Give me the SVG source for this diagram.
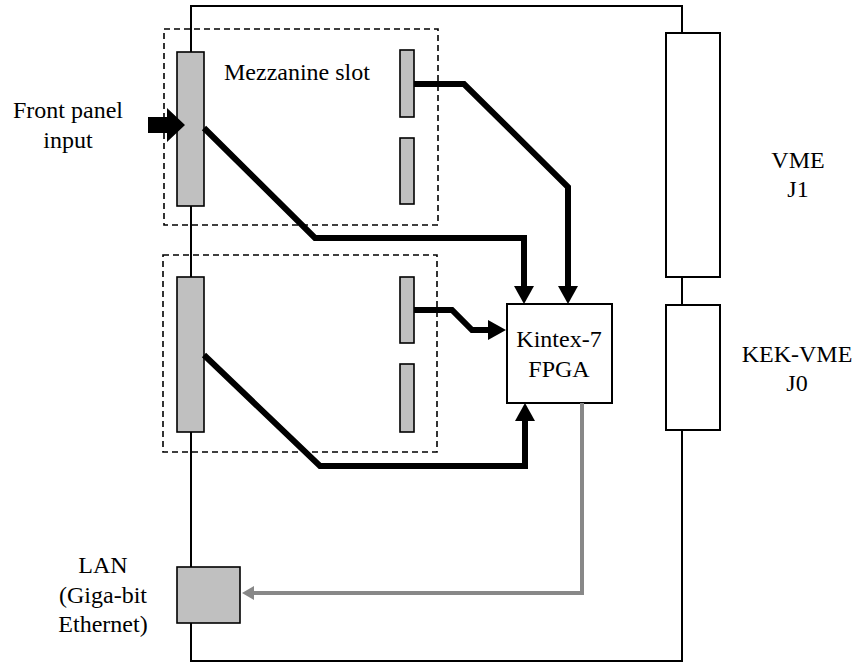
<svg xmlns="http://www.w3.org/2000/svg" width="858" height="664" viewBox="0 0 858 664" font-family="'Liberation Serif', 'Times New Roman', serif" font-size="24">
<style>
text{fill:#000}
.board{fill:none;stroke:#000;stroke-width:2}
.slot{fill:none;stroke:#000;stroke-width:1.6;stroke-dasharray:6,4}
.conn{fill:#c0c0c0;stroke:#000;stroke-width:1.6}
.vme{fill:#fff;stroke:#000;stroke-width:2}
.wire{fill:none;stroke:#000;stroke-width:6;stroke-linejoin:miter}
.gray{fill:none;stroke:#888;stroke-width:4}
</style>
<defs>
<marker id="ah" viewBox="0 0 18 20" markerWidth="18" markerHeight="20" refX="2" refY="10" orient="auto" markerUnits="userSpaceOnUse">
<path d="M0,0 L18,10 L0,20 z" fill="#000"/>
</marker>
<marker id="ahg" viewBox="0 0 12 14" markerWidth="12" markerHeight="14" refX="1" refY="7" orient="auto" markerUnits="userSpaceOnUse">
<path d="M0,0 L12,7 L0,14 z" fill="#888"/>
</marker>
</defs>
<g id="board"><rect class="board" x="191" y="6" width="491" height="655"/></g>
<g id="mezz-top">
<rect class="slot" x="164" y="29" width="274" height="196"/>
<text x="224" y="80">Mezzanine slot</text>
</g>
<g id="mezz-bottom">
<rect class="slot" x="163" y="255" width="274" height="197"/>
</g>
<g id="conn-front-top"><rect class="conn" x="177" y="52" width="27" height="154"/></g>
<g id="conn-small-1"><rect class="conn" x="400" y="50" width="14" height="67"/></g>
<g id="conn-small-2"><rect class="conn" x="400" y="138" width="14" height="66"/></g>
<g id="conn-front-bottom"><rect class="conn" x="177" y="277" width="27" height="155"/></g>
<g id="conn-small-3"><rect class="conn" x="400" y="277" width="14" height="66"/></g>
<g id="conn-small-4"><rect class="conn" x="400" y="364" width="14" height="68"/></g>
<g id="fpga">
<rect x="507" y="304" width="105" height="99" fill="#fff" stroke="#000" stroke-width="2"/>
<text x="559" y="347" text-anchor="middle">Kintex-7</text>
<text x="559" y="377" text-anchor="middle">FPGA</text>
</g>
<g id="vme-j1">
<rect class="vme" x="666" y="33" width="54" height="244"/>
<text x="798" y="168" text-anchor="middle">VME</text>
<text x="798" y="197" text-anchor="middle">J1</text>
</g>
<g id="vme-j0">
<rect class="vme" x="666" y="305" width="54" height="125"/>
<text x="797" y="362" text-anchor="middle">KEK-VME</text>
<text x="797" y="391" text-anchor="middle">J0</text>
</g>
<g id="lan">
<rect class="conn" x="177" y="567" width="63" height="56" stroke-width="2"/>
<text x="103" y="573" text-anchor="middle">LAN</text>
<text x="103" y="603" text-anchor="middle">(Giga-bit</text>
<text x="103" y="632" text-anchor="middle">Ethernet)</text>
</g>
<g id="front-panel">
<text x="68" y="118" text-anchor="middle">Front panel</text>
<text x="68" y="148" text-anchor="middle">input</text>
</g>
<g id="connectors">
<polygon points="148,117 167,117 167,108 185,125 167,142 167,133 148,133" fill="#000"/>
<path class="wire" d="M204,128 L315,238 L524,238 L524,288" marker-end="url(#ah)"/>
<path class="wire" d="M414,84 L464,84 L568,187 L568,288" marker-end="url(#ah)"/>
<path class="wire" d="M414,310 L452,310 L472,330 L490,330" marker-end="url(#ah)"/>
<path class="wire" d="M204,355 L320,466 L525,466 L525,419" marker-end="url(#ah)"/>
<path class="gray" d="M582,403 L582,593 L253,593" marker-end="url(#ahg)"/>
</g>
</svg>
